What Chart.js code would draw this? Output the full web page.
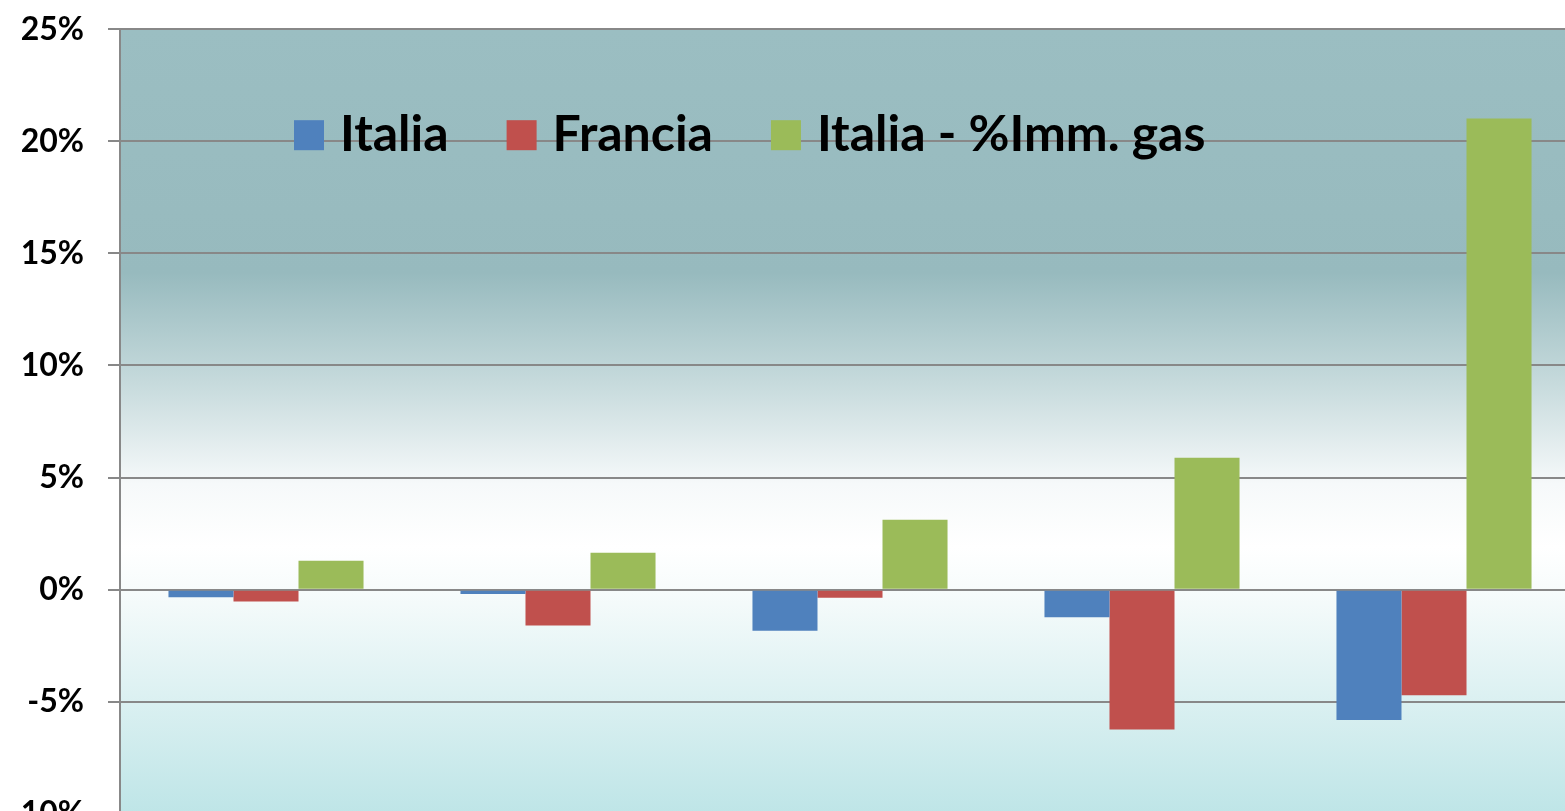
<!DOCTYPE html>
<html>
<head>
<meta charset="utf-8">
<script src="https://cdn.jsdelivr.net/npm/chart.js@4.4.1/dist/chart.umd.min.js"></script>
<style>
    html, body { margin: 0; padding: 0; background: #ffffff; overflow: hidden; }
    #wrap { width: 1565px; height: 811px; overflow: hidden; }
    #barChart { display: block; margin-top: -14px; }
</style>
</head>
<body>
<div id="wrap"><canvas id="barChart" width="1600" height="871"></canvas></div>
<script>
// Data (percent)
const categories = ["1", "2", "3", "4", "5"];
const italia = [-0.34, -0.19, -1.83, -1.23, -5.82];
const francia = [-0.53, -1.6, -0.36, -6.24, -4.71];
const italiaGas = [1.29, 1.65, 3.12, 5.88, 21.02];

const seriesLabels = ["Italia", "Francia", "Italia - %Imm. gas"];
const seriesColors = ["#4f81bd", "#c0504d", "#9bbb59"];
const yTicks = [-10, -5, 0, 5, 10, 15, 20, 25];

const GRID = "#888888";

// Plot background gradient (teal on top, white around zero, light cyan below)
const plotBackground = {
    id: "plotBackground",
    beforeDraw(chart) {
        const { ctx, chartArea } = chart;
        const g = ctx.createLinearGradient(0, chartArea.top, 0, chartArea.bottom);
        g.addColorStop(0, "#9bbec2");
        g.addColorStop(0.31, "#97babe");
        g.addColorStop(0.45, "#c6dadc");
        g.addColorStop(0.58, "#f6f9fa");
        g.addColorStop(0.66, "#ffffff");
        g.addColorStop(0.72, "#f6fbfb");
        g.addColorStop(1, "#bee5e7");
        ctx.save();
        ctx.fillStyle = g;
        ctx.fillRect(chartArea.left, chartArea.top, chartArea.right - chartArea.left, chartArea.bottom - chartArea.top);
        ctx.restore();
    }
};

// Legend drawn inside the plot area, near the top
const insideLegend = {
    id: "insideLegend",
    afterDatasetsDraw(chart) {
        const { ctx, chartArea } = chart;
        const box = 30;
        let x = chartArea.left + 174;
        const yMid = chartArea.top + 106;
        ctx.save();
        ctx.font = "bold 50px Lato";
        ctx.textBaseline = "alphabetic";
        chart.data.datasets.forEach(ds => {
            ctx.fillStyle = ds.backgroundColor;
            ctx.fillRect(x, yMid - box / 2, box, box);
            x += box + 16;
            ctx.fillStyle = "#000000";
            ctx.fillText(ds.label, x, yMid + 16);
            x += ctx.measureText(ds.label).width + 58;
        });
        ctx.restore();
    }
};

new Chart(document.getElementById("barChart"), {
    type: "bar",
    data: {
        labels: categories,
        datasets: [italia, francia, italiaGas].map((vals, i) => ({
            label: seriesLabels[i],
            data: vals,
            backgroundColor: seriesColors[i],
            borderWidth: 0,
            barPercentage: 1,
            categoryPercentage: 0.668
        }))
    },
    options: {
        responsive: false,
        animation: false,
        layout: { padding: { top: 15, right: 20, bottom: 16, left: 0 } },
        plugins: {
            legend: { display: false },
            tooltip: { enabled: false }
        },
        scales: {
            x: {
                display: false
            },
            y: {
                min: -10,
                max: 25,
                afterBuildTicks: axis => { axis.ticks = yTicks.map(v => ({ value: v })); },
                afterFit: axis => { axis.width = 120; },
                grid: { color: GRID, lineWidth: 2, tickLength: 12 },
                border: { color: GRID, width: 2 },
                ticks: {
                    padding: 24,
                    color: "#000000",
                    font: { family: "Lato", weight: "bold", size: 32 },
                    callback: v => v + "%"
                }
            }
        }
    },
    plugins: [plotBackground, insideLegend]
});
</script>
</body>
</html>
